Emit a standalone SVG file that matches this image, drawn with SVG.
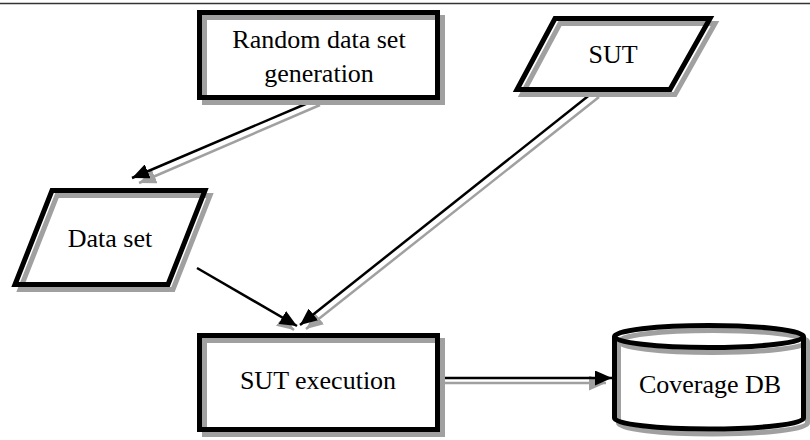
<svg xmlns="http://www.w3.org/2000/svg" width="810" height="440" viewBox="0 0 810 440">
<defs>
<style>
.sh{fill:none;stroke:#a0a0a0;stroke-width:5}
.bd{fill:none;stroke:#000;stroke-width:5;stroke-linejoin:miter}
.bg{fill:#fff;stroke:none}
.t{font-family:"Liberation Serif","Times New Roman",serif;font-size:26px;fill:#000;text-anchor:middle}
.cl{stroke:#000;stroke-width:2.5;fill:none}
.cs{stroke:#a0a0a0;stroke-width:2.5;fill:none}
</style>
<marker id="ab" markerUnits="userSpaceOnUse" markerWidth="18" markerHeight="15" refX="17" refY="7.5" orient="auto"><path d="M0,0 L17,7.5 L0,15 z" fill="#000"/></marker>
<marker id="ag" markerUnits="userSpaceOnUse" markerWidth="18" markerHeight="15" refX="17" refY="7.5" orient="auto"><path d="M0,0 L17,7.5 L0,15 z" fill="#a0a0a0"/></marker>
</defs>
<line x1="0" y1="3.5" x2="810" y2="3.5" stroke="#333" stroke-width="1.5"/>

<g id="connectors">
<line class="cs" x1="320" y1="105" x2="139" y2="183" marker-end="url(#ag)"/>
<line class="cl" x1="315" y1="100" x2="132" y2="178" marker-end="url(#ab)"/>
<line class="cs" x1="599" y1="97" x2="306" y2="329" marker-end="url(#ag)"/>
<line class="cl" x1="592" y1="93" x2="300" y2="325" marker-end="url(#ab)"/>
<line class="cs" x1="282" y1="321" x2="294" y2="330" marker-end="url(#ag)"/>
<line class="cl" x1="197" y1="268" x2="297" y2="326" marker-end="url(#ab)"/>
<line class="cs" x1="444" y1="383" x2="606" y2="383" marker-end="url(#ag)"/>
<line class="cl" x1="440" y1="378" x2="612" y2="378" marker-end="url(#ab)"/>
</g>

<g id="random">
<rect class="bg" x="199.5" y="12.5" width="238" height="85"/>
<rect class="sh" x="204.5" y="17.5" width="238" height="85"/>
<rect class="bd" x="199.5" y="12.5" width="238" height="85"/>
<text class="t" x="319" y="48">Random data set</text>
<text class="t" x="319" y="82">generation</text>
</g>

<g id="sut">
<polygon class="bg" points="555,18.5 710,18.5 670,89.5 517,89.5"/>
<polygon class="sh" points="560,23.5 715,23.5 675,94.5 522,94.5"/>
<polygon class="bd" points="555,18.5 710,18.5 670,89.5 517,89.5"/>
<text class="t" x="613" y="63">SUT</text>
</g>

<g id="dataset">
<polygon class="bg" points="52,190.5 205,190.5 168,284.5 15,284.5"/>
<polygon class="sh" points="57,195.5 210,195.5 173,289.5 20,289.5"/>
<polygon class="bd" points="52,190.5 205,190.5 168,284.5 15,284.5"/>
<text class="t" x="110" y="247">Data set</text>
</g>

<g id="sutexec">
<rect class="bg" x="199.5" y="335.5" width="238" height="94"/>
<rect class="sh" x="204.5" y="340.5" width="238" height="94"/>
<rect class="bd" x="199.5" y="335.5" width="238" height="94"/>
<text class="t" x="318" y="389">SUT execution</text>
</g>

<g id="coverage">
<path class="bg" d="M614.5,336.5 A94.5,11 0 0 1 803.5,336.5 L803.5,418 A94.5,11 0 0 1 614.5,418 Z"/>
<g transform="translate(4,5)">
<path class="sh" d="M614.5,336.5 L614.5,418 A94.5,11 0 0 0 803.5,418 L803.5,336.5"/>
<ellipse class="sh" cx="709" cy="336.5" rx="94.5" ry="11"/>
</g>
<path class="bd" d="M614.5,336.5 L614.5,418 A94.5,11 0 0 0 803.5,418 L803.5,336.5"/>
<ellipse class="bd" cx="709" cy="336.5" rx="94.5" ry="11"/>
<text class="t" x="710" y="393">Coverage DB</text>
</g>
</svg>
